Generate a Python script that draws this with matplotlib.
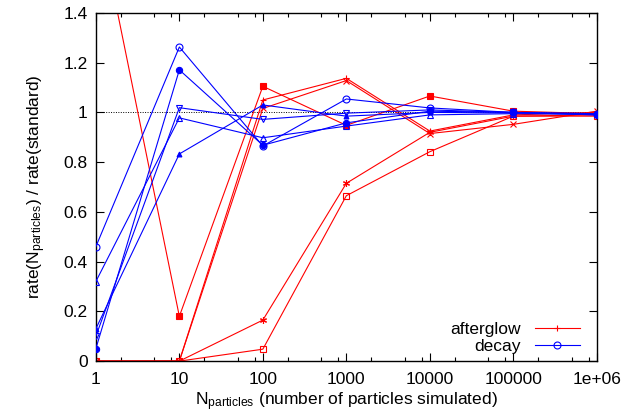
import numpy as np
import matplotlib.pyplot as plt
from matplotlib.ticker import FixedLocator, NullFormatter

plt.rcParams['font.family'] = ['Liberation Sans', 'DejaVu Sans']
plt.rcParams['mathtext.fontset'] = 'custom'
plt.rcParams['mathtext.rm'] = 'Liberation Sans'
plt.rcParams['mathtext.it'] = 'Liberation Sans'

n_particles = [1, 10, 100, 1000, 10000, 100000, 1000000]
tick_labels = ['1', '10', '100', '1000', '10000', '100000', '1e+06']

# afterglow runs (red)
afterglow_plus = [0.0, 0.0, 1.05, 1.137, 0.925, 0.99, 1.0]
afterglow_cross = [0.0, 0.0, 1.016, 1.128, 0.915, 0.952, 1.005]
afterglow_star = [0.0, 0.0, 0.165, 0.715, 0.92, 0.985, 0.99]
afterglow_osq = [0.0, 0.0, 0.048, 0.665, 0.842, 0.985, 0.985]
afterglow_fsq = [1.83, 0.18, 1.105, 0.948, 1.066, 1.005, 0.995]

# decay runs (blue)
decay_ocirc = [0.46, 1.263, 0.865, 1.054, 1.018, 1.0, 0.995]
decay_fcirc = [0.05, 1.171, 0.868, 0.958, 1.005, 1.0, 0.99]
decay_otri = [0.32, 0.978, 0.898, 0.945, 0.99, 0.995, 0.993]
decay_ftri = [0.13, 0.833, 1.03, 0.985, 1.0, 0.998, 0.995]
decay_odtri = [0.10, 1.019, 0.972, 0.997, 1.01, 1.0, 0.99]

red = '#ff0000'
blue = '#0000ff'

fig = plt.figure(figsize=(6.39, 4.17), dpi=100)
ax = fig.add_axes([0.150, 0.134, 0.784, 0.835])

ax.axhline(1.0, color='black', lw=0.7, ls=(0, (1, 1.5)), zorder=1)

red_sets = [(afterglow_plus, '+', 'full'), (afterglow_cross, 'x', 'full'),
            (afterglow_star, (6, 2, 0), 'full'), (afterglow_osq, 's', 'none'),
            (afterglow_fsq, 's', 'full')]
for ys, m, fill in red_sets:
    ax.plot(n_particles, ys, color=red, lw=0.8, marker=m, ms=5, mew=0.8,
            fillstyle=fill, zorder=2)

blue_sets = [(decay_ocirc, 'o', 'none', 5), (decay_fcirc, 'o', 'full', 4.5),
             (decay_otri, '^', 'none', 5), (decay_ftri, '^', 'full', 3.5),
             (decay_odtri, 'v', 'none', 5)]
for ys, m, fill, ms in blue_sets:
    ax.plot(n_particles, ys, color=blue, lw=0.8, marker=m, ms=ms, mew=0.8,
            fillstyle=fill, zorder=3)

# legend proxies
h1, = ax.plot([], [], color=red, lw=0.8, marker='+', ms=5, mew=0.8)
h2, = ax.plot([], [], color=blue, lw=0.8, marker='o', ms=5, mew=0.8, fillstyle='none')
ax.legend([h1, h2], ['afterglow', 'decay'], loc='lower right',
          bbox_to_anchor=(0.98, 0.0), frameon=False,
          markerfirst=False, fontsize=12.5, handlelength=2.6, borderaxespad=0.2,
          borderpad=0.2, labelspacing=0.12, handletextpad=0.8)

ax.set_xscale('log')
ax.set_xlim(1, 1e6)
ax.set_ylim(0, 1.4)
ax.set_xticks(n_particles)
ax.set_xticklabels(tick_labels)
minors = []
for d in n_particles[:-1]:
    minors += [2 * d, 5 * d, 8 * d]
ax.xaxis.set_minor_locator(FixedLocator(minors))
ax.xaxis.set_minor_formatter(NullFormatter())
ax.set_yticks(np.arange(0, 1.41, 0.2))
ax.set_yticklabels(['0', '0.2', '0.4', '0.6', '0.8', '1', '1.2', '1.4'])

ax.tick_params(which='both', direction='in', top=True, right=True,
               labelsize=12.5, pad=6)
ax.tick_params(axis='x', which='major', pad=8)
ax.tick_params(which='major', length=6, width=0.8)
ax.tick_params(which='minor', length=3, width=0.8)
for s in ax.spines.values():
    s.set_linewidth(1.0)

ax.set_xlabel(r'N$_{\mathrm{particles}}$ (number of particles simulated)', fontsize=12.5, labelpad=2)
ax.set_ylabel(r'rate(N$_{\mathrm{particles}}$) / rate(standard)', fontsize=12.5, labelpad=11)

fig.savefig('out.png', dpi=100)
